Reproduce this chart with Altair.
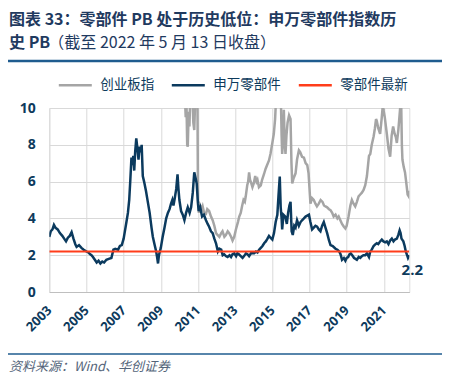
import altair as alt
import pandas as pd

# ---- data ----
blue_t = [2003.00, 2003.08, 2003.17, 2003.25, 2003.33, 2003.45, 2003.57, 2003.70, 2003.80, 2003.90,
          2004.00, 2004.10, 2004.20, 2004.30, 2004.40, 2004.47, 2004.60, 2004.73, 2004.85, 2005.00,
          2005.10, 2005.20, 2005.27, 2005.35, 2005.45, 2005.55, 2005.65, 2005.75, 2005.85, 2005.95,
          2006.07, 2006.20, 2006.34, 2006.45, 2006.55, 2006.70, 2006.80, 2006.90, 2007.00, 2007.05,
          2007.15, 2007.23, 2007.30, 2007.36, 2007.42, 2007.47, 2007.52, 2007.57, 2007.62, 2007.68,
          2007.74, 2007.80, 2007.86, 2007.92, 2007.97, 2008.03, 2008.10, 2008.20, 2008.30, 2008.40,
          2008.50, 2008.57, 2008.66, 2008.75, 2008.80, 2008.85, 2008.90, 2009.00, 2009.10, 2009.20,
          2009.29, 2009.38, 2009.47, 2009.55, 2009.62, 2009.68, 2009.75, 2009.83, 2009.90, 2009.95,
          2010.00, 2010.09, 2010.18, 2010.27, 2010.36, 2010.45, 2010.55, 2010.63, 2010.72, 2010.80,
          2010.87, 2010.93, 2011.00, 2011.04, 2011.12, 2011.22, 2011.32, 2011.43, 2011.52, 2011.60,
          2011.70, 2011.79, 2011.88, 2011.97, 2012.07, 2012.15, 2012.25, 2012.33, 2012.41, 2012.50,
          2012.59, 2012.70, 2012.78, 2012.86, 2012.95, 2013.05, 2013.12, 2013.20, 2013.30, 2013.40,
          2013.48, 2013.58, 2013.66, 2013.75, 2013.85, 2013.93, 2014.02, 2014.12, 2014.20, 2014.29,
          2014.38, 2014.47, 2014.56, 2014.65, 2014.74, 2014.82, 2014.90, 2015.00, 2015.09, 2015.18,
          2015.27, 2015.33, 2015.40, 2015.45, 2015.50, 2015.53, 2015.60, 2015.70, 2015.78, 2015.85,
          2015.92, 2015.98, 2016.04, 2016.10, 2016.18, 2016.25, 2016.33, 2016.43, 2016.52, 2016.60,
          2016.70, 2016.79, 2016.88, 2016.97, 2017.05, 2017.14, 2017.23, 2017.32, 2017.41, 2017.50,
          2017.59, 2017.68, 2017.77, 2017.86, 2017.95, 2018.05, 2018.13, 2018.25, 2018.40, 2018.50,
          2018.60, 2018.67, 2018.75, 2018.85, 2018.93, 2019.00, 2019.08, 2019.15, 2019.22, 2019.30,
          2019.40, 2019.48, 2019.55, 2019.65, 2019.73, 2019.82, 2019.90, 2020.00, 2020.09, 2020.20,
          2020.27, 2020.35, 2020.45, 2020.55, 2020.62, 2020.70, 2020.80, 2020.89, 2020.98, 2021.07,
          2021.16, 2021.25, 2021.34, 2021.43, 2021.52, 2021.60, 2021.70, 2021.78, 2021.85, 2021.90,
          2021.95, 2022.05, 2022.12, 2022.18, 2022.25, 2022.30, 2022.37]
blue_v = [3.00, 3.30, 3.40, 3.65, 3.50, 3.40, 3.20, 3.05, 2.90, 2.75,
          2.95, 3.05, 3.25, 2.90, 2.60, 2.45, 2.55, 2.40, 2.30, 2.20,
          2.15, 2.05, 2.00, 1.90, 1.75, 1.60, 1.70, 1.55, 1.65, 1.60,
          1.75, 1.80, 1.85, 2.30, 2.35, 2.30, 2.50, 2.55, 2.90, 3.20,
          3.80, 4.30, 5.00, 6.10, 7.30, 6.90, 7.40, 6.60, 7.60, 8.35,
          7.80, 7.20, 7.90, 7.60, 8.00, 6.30, 6.00, 5.50, 4.90, 4.30,
          3.50, 3.00, 2.60, 2.20, 1.90, 1.55, 2.00, 2.40, 3.00, 3.50,
          4.00, 4.30, 4.50, 4.80, 5.00, 4.70, 5.10, 5.60, 6.40, 5.60,
          5.00, 4.40, 4.20, 3.90, 4.30, 4.60, 4.30, 4.60, 5.40, 6.50,
          6.20, 5.90, 4.80, 4.40, 4.60, 4.10, 4.20, 3.90, 3.70, 3.55,
          3.30, 3.20, 2.90, 2.65, 2.20, 2.35, 2.30, 2.00, 2.05, 1.95,
          1.90, 2.00, 1.90, 2.05, 2.10, 1.95, 2.10, 2.05, 1.95, 1.85,
          1.95, 2.10, 2.05, 1.95, 2.10, 2.10, 2.10, 2.20, 2.15, 2.30,
          2.40, 2.50, 2.65, 2.75, 2.90, 3.05, 2.95, 2.85, 3.20, 3.80,
          4.20, 5.20, 6.27, 4.60, 4.00, 3.40, 4.20, 4.10, 3.70, 4.30,
          4.70, 4.90, 3.30, 3.10, 3.60, 3.50, 3.90, 3.60, 3.80, 3.90,
          4.00, 4.10, 4.15, 4.20, 3.80, 3.40, 3.50, 3.60, 3.55, 3.40,
          3.30, 3.60, 3.80, 3.50, 3.20, 2.80, 2.55, 2.50, 2.35, 2.30,
          2.20, 2.05, 1.75, 1.85, 1.70, 1.85, 1.90, 2.05, 2.10, 2.00,
          1.85, 1.80, 1.75, 1.90, 1.85, 1.95, 2.00, 2.00, 2.10, 1.90,
          2.20, 2.30, 2.50, 2.60, 2.65, 2.60, 2.75, 2.85, 2.75, 2.70,
          2.75, 2.60, 2.80, 2.90, 2.75, 2.85, 2.90, 3.10, 3.35, 3.20,
          2.90, 2.75, 2.50, 2.20, 2.00, 1.85, 2.00]

gray_t = [2010.30, 2010.34, 2010.38, 2010.42, 2010.45, 2010.50, 2010.54, 2010.58, 2010.62, 2010.70,
          2010.75, 2010.80, 2010.85, 2010.92, 2010.97, 2011.00, 2011.05, 2011.12, 2011.20, 2011.25,
          2011.33, 2011.43, 2011.50, 2011.60, 2011.70, 2011.79, 2011.88, 2011.97, 2012.05, 2012.15,
          2012.25, 2012.32, 2012.42, 2012.50, 2012.60, 2012.68, 2012.78, 2012.86, 2012.95, 2013.04,
          2013.15, 2013.22, 2013.30, 2013.38, 2013.45, 2013.52, 2013.57, 2013.65, 2013.70, 2013.75,
          2013.80, 2013.87, 2013.93, 2014.00, 2014.08, 2014.15, 2014.20, 2014.28, 2014.38, 2014.45,
          2014.55, 2014.64, 2014.72, 2014.82, 2014.90, 2015.00, 2015.08, 2015.15, 2015.20, 2015.30,
          2015.40, 2015.45, 2015.50, 2015.53, 2015.58, 2015.62, 2015.67, 2015.71, 2015.76, 2015.82,
          2015.90, 2015.98, 2016.03, 2016.07, 2016.15, 2016.25, 2016.33, 2016.43, 2016.50, 2016.60,
          2016.70, 2016.79, 2016.88, 2016.95, 2017.05, 2017.14, 2017.23, 2017.32, 2017.40, 2017.50,
          2017.60, 2017.70, 2017.78, 2017.86, 2017.95, 2018.05, 2018.13, 2018.22, 2018.30, 2018.40,
          2018.50, 2018.57, 2018.66, 2018.75, 2018.85, 2018.93, 2019.00, 2019.10, 2019.20, 2019.28,
          2019.37, 2019.46, 2019.55, 2019.64, 2019.73, 2019.82, 2019.91, 2020.00, 2020.09, 2020.15,
          2020.20, 2020.27, 2020.35, 2020.45, 2020.52, 2020.58, 2020.62, 2020.70, 2020.80, 2020.88,
          2020.95, 2020.98, 2021.05, 2021.16, 2021.25, 2021.34, 2021.42, 2021.50, 2021.58, 2021.65,
          2021.70, 2021.78, 2021.87, 2021.93, 2021.97, 2022.00, 2022.07, 2022.14, 2022.20, 2022.28,
          2022.34, 2022.37]
gray_v = [10.5, 9.5, 10.3, 8.0, 7.9, 9.8, 9.0, 10.5, 11.0, 10.6,
          9.2, 8.8, 10.5, 11.5, 10.5, 5.0, 4.3, 4.7, 4.5, 4.65,
          4.3, 4.25, 4.5, 4.4, 4.1, 3.9, 3.6, 3.2, 3.1, 3.0,
          3.2, 3.3, 3.0, 3.1, 3.3, 3.2, 3.0, 2.8, 3.0, 3.4,
          3.8, 4.1, 4.3, 4.7, 5.0, 4.9, 5.2, 5.8, 6.0, 6.5,
          6.1, 5.9, 5.7, 5.9, 6.3, 6.0, 6.1, 5.7, 5.8, 6.1,
          6.4, 6.7, 6.9, 7.15, 7.5, 8.1, 8.6, 9.4, 10.5, 12.0,
          13.0, 11.0, 8.5, 7.5, 8.3, 9.9, 8.0, 7.5, 8.5, 9.2,
          9.6, 9.4, 7.0, 5.9, 6.2, 6.45, 7.2, 7.7, 7.6, 7.35,
          7.3, 7.0, 6.9, 6.45, 4.8, 5.1, 5.0, 4.8, 4.65, 4.8,
          5.0, 4.9, 4.7, 4.65, 4.6, 4.5, 4.45, 4.3, 4.1, 4.2,
          4.0, 4.1, 3.9, 3.7, 3.55, 3.45, 3.6, 4.1, 4.7, 5.0,
          4.8, 4.65, 4.9, 5.2, 5.3, 5.4, 5.55, 5.8, 6.3, 6.9,
          7.4, 7.5, 8.0, 8.45, 8.9, 9.4, 9.3, 8.9, 8.6, 9.4,
          10.2, 9.9, 9.5, 8.6, 7.8, 7.35, 8.5, 9.0, 8.6, 8.4,
          8.1, 8.8, 9.9, 10.5, 8.0, 7.2, 6.8, 6.5, 6.0, 5.3,
          5.2, 5.5]

red_t = [2003.00, 2022.37]
red_v = [2.2, 2.2]

series_names = ["创业板指", "申万零部件", "零部件最新"]
series_colors = ["#a5a5a5", "#0b3a5e", "#ff3d1a"]
year_ticks = [2003, 2005, 2007, 2009, 2011, 2013, 2015, 2017, 2019, 2021]
y_ticks = [0, 2, 4, 6, 8, 10]
latest_value = 2.2
latest_label = "2.2"

title_line1 = "图表 33：零部件 PB 处于历史低位：申万零部件指数历"
title_line2a = "史 PB"
title_line2b = "（截至 2022 年 5 月 13 日收盘）"
source_text = "资料来源：Wind、华创证券"

# ---- tables ----
df_gray = pd.DataFrame({"t": gray_t, "v": gray_v, "s": series_names[0]})
df_blue = pd.DataFrame({"t": blue_t, "v": blue_v, "s": series_names[1]})
df_red = pd.DataFrame({"t": red_t, "v": red_v, "s": series_names[2]})
df_last = pd.DataFrame({"t": [blue_t[-1]], "v": [latest_value], "lab": [latest_label]})

NAVY = "#0d3a5c"
FONT = "Open Sans"
CJK = "Noto Sans CJK SC"

x_enc = alt.X("t:Q", scale=alt.Scale(domain=[2003, 2022.37], nice=False, zero=False),
              axis=alt.Axis(values=year_ticks, tickCount=30, format="d", labelAngle=-45,
                            labelAlign="right", labelBaseline="middle", labelPadding=16,
                            labelOverlap=False, grid=True, gridColor="#d9d9d9",
                            gridWidth=1, ticks=False, domainColor="#bfbfbf", domainWidth=1,
                            labelFont=FONT, labelFontSize=13, labelFontWeight="bold",
                            labelColor=NAVY, title=None))
y_enc = alt.Y("v:Q", scale=alt.Scale(domain=[0, 10], nice=False),
              axis=alt.Axis(values=y_ticks, tickCount=20, format="d", grid=True,
                            gridColor="#d9d9d9", gridWidth=1,
                            ticks=False, domain=False, labelPadding=14, labelOverlap=False,
                            labelFont=FONT,
                            labelFontSize=14, labelFontWeight="bold", labelColor=NAVY, title=None))
color_enc = alt.Color("s:N", scale=alt.Scale(domain=series_names, range=series_colors),
                      legend=alt.Legend(orient="none", legendX=8, legendY=-41, direction="horizontal",
                                        title=None, symbolType="stroke", symbolSize=1089,
                                        symbolStrokeWidth=2.5, labelFont=CJK, labelFontSize=13.5,
                                        labelColor=NAVY, labelOffset=7, columnPadding=12, padding=0))

gray = alt.Chart(df_gray).mark_line(strokeWidth=2.5, clip=True).encode(x=x_enc, y=y_enc, color=color_enc)
blue = alt.Chart(df_blue).mark_line(strokeWidth=2.5, clip=True).encode(x=x_enc, y=y_enc, color=color_enc)
red = alt.Chart(df_red).mark_line(strokeWidth=1.8, clip=True).encode(x=x_enc, y=y_enc, color=color_enc)
last = alt.Chart(df_last).mark_text(font=FONT, fontSize=15, fontWeight="bold", color=NAVY,
                                    dx=3, dy=18).encode(x=x_enc, y=y_enc, text="lab:N")

# ---- decorations (header / footer) ----
deco = pd.DataFrame({"k": [0]})
t1 = alt.Chart(deco).mark_text(font=CJK, fontSize=16, fontWeight="bold", color="#1f3a5f",
                               align="left", baseline="middle").encode(
    x=alt.value(-40.3), y=alt.value(-88), text=alt.value(title_line1))
t2 = alt.Chart(deco).mark_text(font=CJK, fontSize=16, fontWeight="bold", color="#1f3a5f",
                               align="left", baseline="middle").encode(
    x=alt.value(-40.3), y=alt.value(-65), text=alt.value(title_line2a))
t3 = alt.Chart(deco).mark_text(font=CJK, fontSize=16, color="#1f3a5f",
                               align="left", baseline="middle").encode(
    x=alt.value(-1), y=alt.value(-65), text=alt.value(title_line2b))
top_rule = alt.Chart(deco).mark_rule(color="#1f5c8f", strokeWidth=2.5).encode(
    x=alt.value(-43.3), x2=alt.value(392.7), y=alt.value(-47))
bot_rule = alt.Chart(deco).mark_rule(color="#1f5c8f", strokeWidth=1.5).encode(
    x=alt.value(-43.3), x2=alt.value(392.7), y=alt.value(246))
src = alt.Chart(deco).mark_text(font=CJK, fontSize=13, fontStyle="italic", color="#54657a",
                                align="left", baseline="middle").encode(
    x=alt.value(-40.3), y=alt.value(259), text=alt.value(source_text))

chart = alt.layer(gray, blue, red, last, t1, t2, t3, top_rule, bot_rule, src).properties(
    width=360, height=184,
    padding={"left": 41.3, "top": 100, "right": 34.7, "bottom": 82},
    autosize=alt.AutoSizeParams(type="none"),
).configure_view(stroke=None).configure(background="white")

chart.save("out.html", embed_options={"renderer": "svg", "actions": False})
